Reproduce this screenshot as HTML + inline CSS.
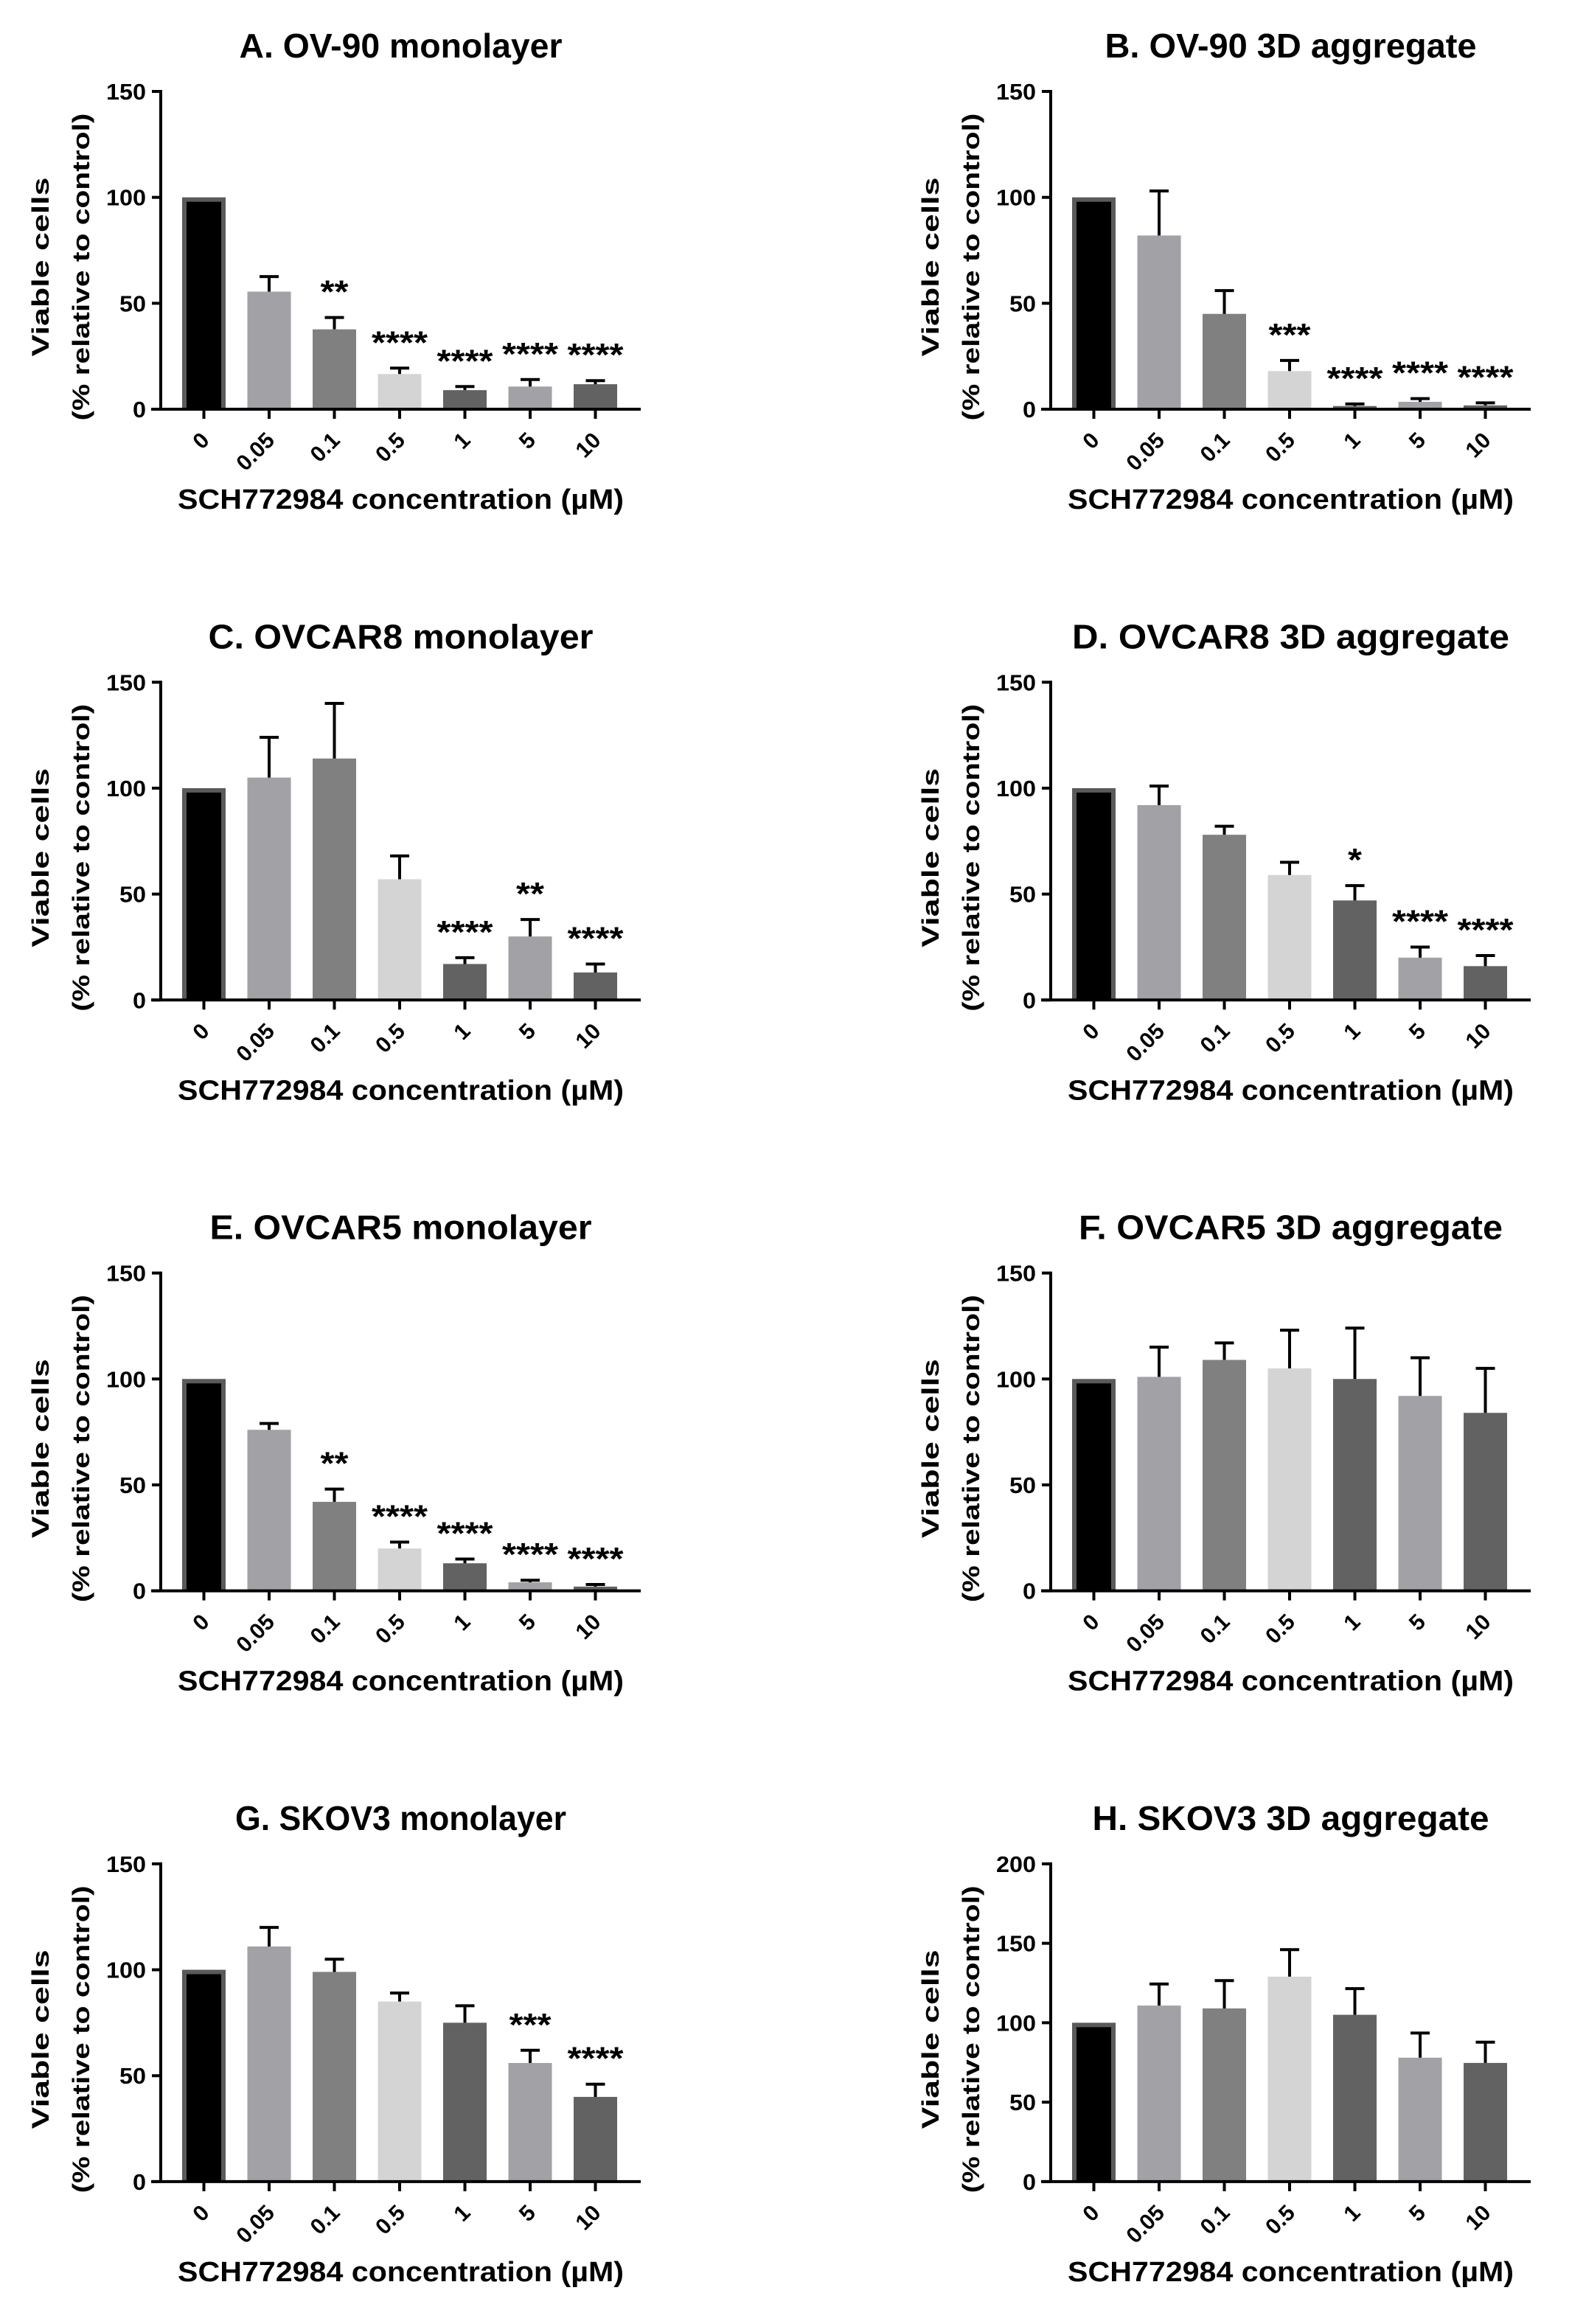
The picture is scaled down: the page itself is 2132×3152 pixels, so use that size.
<!DOCTYPE html>
<html><head><meta charset="utf-8"><style>
html,body{margin:0;padding:0;background:#fff}
svg{display:block}
text{font-family:"Liberation Sans",Arial,sans-serif;font-weight:bold;fill:#000}
</style></head><body>
<svg id="fig" width="2132" height="3152" viewBox="0 0 2132 3152" xmlns="http://www.w3.org/2000/svg"></svg>
<script>
const categories = ["0","0.05","0.1","0.5","1","5","10"];
const titles = ["A. OV-90 monolayer","B. OV-90 3D aggregate","C. OVCAR8 monolayer","D. OVCAR8 3D aggregate","E. OVCAR5 monolayer","F. OVCAR5 3D aggregate","G. SKOV3 monolayer","H. SKOV3 3D aggregate"];
const titleWidths = [438,504,522,593,518,575,449,538];
const valuesA = [100,55.5,37.7,16.6,9,10.7,11.8];
const errTopA = [100,62.6,43.3,19.4,10.7,14,13.5];
const starsA = ["","","**","****","****","****","****"];
const valuesB = [100,82,45,18,1.5,3.5,1.8];
const errTopB = [100,103,56,23,2.5,5,3];
const starsB = ["","","","***","****","****","****"];
const valuesC = [100,105,114,57,17,30,13];
const errTopC = [100,124,140,68,20,38,17];
const starsC = ["","","","","****","**","****"];
const valuesD = [100,92,78,59,47,20,16];
const errTopD = [100,101,82,65,54,25,21];
const starsD = ["","","","","*","****","****"];
const valuesE = [100,76,42,20,13,4,2];
const errTopE = [100,79,48,23,15,5,3];
const starsE = ["","","**","****","****","****","****"];
const valuesF = [100,101,109,105,100,92,84];
const errTopF = [100,115,117,123,124,110,105];
const starsF = ["","","","","","",""];
const valuesG = [100,111,99,85,75,56,40];
const errTopG = [100,120,105,89,83,62,46];
const starsG = ["","","","","","***","****"];
const valuesH = [100,110.8,109,129,105,78,74.7];
const errTopH = [100,124.4,126.5,146,121.5,93.5,87.8];
const starsH = ["","","","","","",""];
const yTicks150 = [0,50,100,150];
const yTicks200 = [0,50,100,150,200];
const allValues = [valuesA,valuesB,valuesC,valuesD,valuesE,valuesF,valuesG,valuesH];
const allErr = [errTopA,errTopB,errTopC,errTopD,errTopE,errTopF,errTopG,errTopH];
const allStars = [starsA,starsB,starsC,starsD,starsE,starsF,starsG,starsH];
const allTicks = [yTicks150,yTicks150,yTicks150,yTicks150,yTicks150,yTicks150,yTicks150,yTicks200];

const barColors = ["#000","#a1a1a6","#808080","#d4d4d4","#626262","#a1a1a6","#626262"];
const NS = "http://www.w3.org/2000/svg";
const svg = document.getElementById("fig");
function mk(tag, attrs, parent){
  const e = document.createElementNS(NS, tag);
  for (const k in attrs) e.setAttribute(k, attrs[k]);
  parent.appendChild(e);
  return e;
}
for (let p = 0; p < 8; p++) {
  const col = p % 2, row = Math.floor(p / 2);
  const ax = 218 + col * 1207;
  const oy = row * 801.3;
  const y0 = 555 + oy, yTop = 124 + oy;
  const ticks = allTicks[p];
  const yMax = ticks[ticks.length - 1];
  const yS = v => y0 - (v / yMax) * (y0 - yTop);
  const xS = i => ax + 58.5 + i * 88.5;
  const xEnd = ax + 651;
  const cx = (ax + xEnd) / 2;
  const g = mk("g", {}, svg);
  
  

  const t = mk("text", {x: cx, y: 78 + oy, "text-anchor": "middle", "font-size": 46, textLength: titleWidths[p], lengthAdjust: "spacingAndGlyphs"}, g);
  t.textContent = titles[p];
  
  

  const yl = mk("g", {transform: `translate(${ax - 152},${362 + oy}) rotate(-90)`}, g);
  
  
  const l1 = mk("text", {x: 0, y: 0, "text-anchor": "middle", "font-size": 32, textLength: 243, lengthAdjust: "spacingAndGlyphs"}, yl);
  l1.textContent = "Viable cells";
  const l2 = mk("text", {x: 0, y: 55, "text-anchor": "middle", "font-size": 32, textLength: 417, lengthAdjust: "spacingAndGlyphs"}, yl);
  l2.textContent = "(% relative to control)";

  for (let i = 0; i < categories.length; i++) {
    const v = allValues[p][i], e = allErr[p][i];
    const bx = xS(i) - 29.5, top = yS(v);
    if (i === 0) {
      const r = mk("rect", {x: bx, y: top, width: 59, height: y0 - top, fill: "#5a5a5a"}, g);
      
      
      mk("rect", {x: bx + 6, y: top + 6, width: 47, height: y0 - top - 6, fill: "#000"}, g);
    } else {
      const r = mk("rect", {x: bx, y: top, width: 59, height: y0 - top, fill: barColors[i]}, g);
      
      
      const et = yS(e);
      const eb = mk("path", {d: `M${xS(i)},${top} V${et} M${xS(i) - 13},${et} H${xS(i) + 13}`, stroke: "#000", "stroke-width": 4, fill: "none"}, g);
      
      
      const s = allStars[p][i];
      if (s) {
        const st = mk("text", {x: xS(i), y: et - 20, "text-anchor": "middle", "font-size": 44, textLength: 19 * s.length, lengthAdjust: "spacingAndGlyphs"}, g);
        st.textContent = s;
        
        
      }
    }
  }
  const axl = mk("path", {d: `M${ax},${yTop - 2} V${y0} M${ax - 13},${y0} H${xEnd}`, stroke: "#000", "stroke-width": 4, fill: "none"}, g);
  
  
  for (const tv of ticks) {
    const ty = yS(tv);
    mk("path", {d: `M${ax - 12},${ty} H${ax}`, stroke: "#000", "stroke-width": 4}, g);
    const tl = mk("text", {x: ax - 20, y: ty + 11, "text-anchor": "end", "font-size": 31, textLength: String(tv).length * 18, lengthAdjust: "spacingAndGlyphs"}, g);
    tl.textContent = tv;
    
    
  }
  for (let i = 0; i < categories.length; i++) {
    mk("path", {d: `M${xS(i)},${y0} V${y0 + 13}`, stroke: "#000", "stroke-width": 4}, g);
    const xl = mk("text", {x: 0, y: 0, "text-anchor": "end", "font-size": 30, transform: `translate(${xS(i) + 9},${y0 + 44}) rotate(-45)`}, g);
    xl.textContent = categories[i];
    
    
  }
  const xt = mk("text", {x: cx, y: 690 + oy, "text-anchor": "middle", "font-size": 38, textLength: 605, lengthAdjust: "spacingAndGlyphs"}, g);
  xt.textContent = "SCH772984 concentration (µM)";
  
  
}
</script>
</body></html>
